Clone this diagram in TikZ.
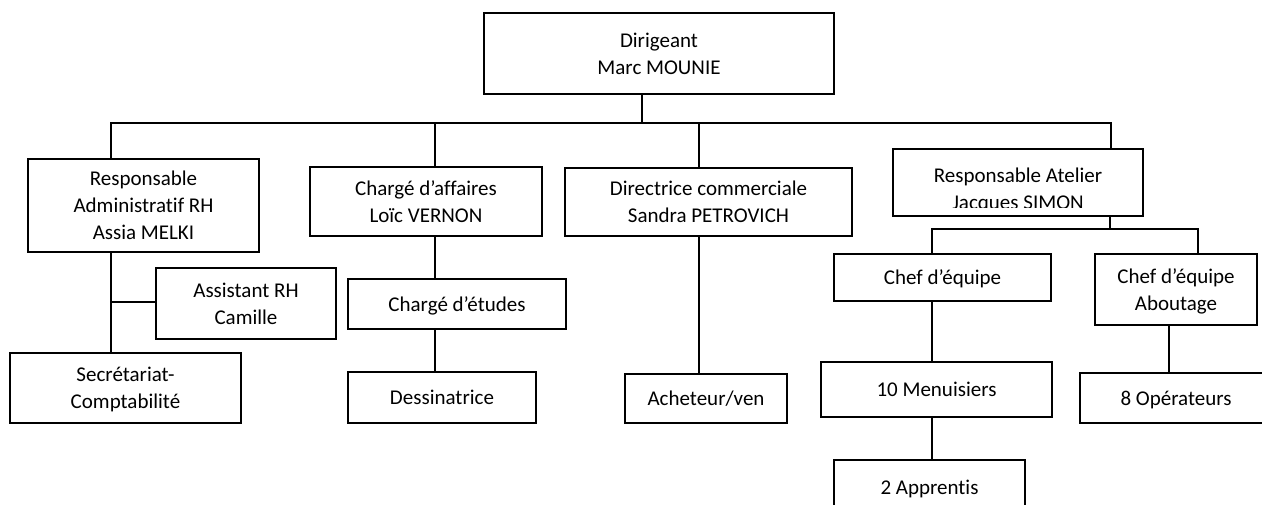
\documentclass[tikz,border=0pt]{standalone}
\usepackage{fontspec}
\setmainfont[Ligatures=CommonOff]{Carlito}
\usetikzlibrary{calc}
\begin{document}
\begin{tikzpicture}[x=1pt,y=-1pt,
  txt/.style={align=center, inner sep=0pt, text depth=0pt, font=\fontsize{21}{27}\selectfont},
  orgbox/.style={draw, line width=1.7pt, txt},
  link/.style={line width=1.6pt, line cap=rect}]
\fill[white] (0,0) rectangle (1262,504);
\clip (0,0) rectangle (1262,504);
% boxes
\node[orgbox, minimum width=350, minimum height=81] (dir) at (659,53.5) {Dirigeant\\Marc MOUNIE};
\node[orgbox, minimum width=231, minimum height=93] (admin) at (143.5,205.5) {Responsable\\Administratif RH\\Assia MELKI};
\node[orgbox, minimum width=232, minimum height=69] (caff) at (426,201.5) {Chargé d’affaires\\Loïc VERNON};
\node[orgbox, minimum width=287, minimum height=68] (dirc) at (708.5,202) {Directrice commerciale\\Sandra PETROVICH};
\node[orgbox, minimum width=250, minimum height=67] (atelier) at (1018,182.5) {};
\begin{scope}
  \clip (atelier.north west) rectangle ($(atelier.south east)+(0,-9)$);
  \node[txt] (ateliertext) at (1018,189) {Responsable Atelier\\Jacques SIMON};
\end{scope}
\node[orgbox, minimum width=180, minimum height=71] (assist) at (246,303.5) {Assistant RH\\Camille};
\node[orgbox, minimum width=231, minimum height=70] (secr) at (125.5,388) {Secrétariat-\\Comptabilité};
\node[orgbox, minimum width=218, minimum height=50] (cetud) at (457,304) {Chargé d’études};
\node[orgbox, minimum width=188, minimum height=51] (dessin) at (442,397.5) {Dessinatrice};
\node[orgbox, minimum width=162, minimum height=49] (achet) at (706,398.5) {Acheteur/ven};
\node[orgbox, minimum width=217, minimum height=47] (chef1) at (942.5,277.5) {Chef d’équipe};
\node[orgbox, minimum width=162, minimum height=71] (chef2) at (1176,289.5) {Chef d’équipe\\Aboutage};
\node[orgbox, minimum width=231, minimum height=55] (menu) at (936.5,389.5) {10 Menuisiers};
\node[orgbox, minimum width=191, minimum height=54] (appr) at (929.5,487) {2 Apprentis};
\node[orgbox, minimum width=192, minimum height=50] (oper) at (1176,398) {8 Opérateurs};
% junction coordinates
\coordinate (busL) at (111,123);
\coordinate (busR) at (1111,123);
\coordinate (jdir) at (642,123);
\coordinate (jcaff) at (435,123);
\coordinate (jdirc) at (699,123);
\coordinate (jassist) at (111,302);
\coordinate (jat) at (1110,229);
\coordinate (jchef1) at (932,229);
\coordinate (jchef2) at (1198,229);
\coordinate (jop) at (1169,350);
% connectors
\draw[link] (jdir |- dir.south) -- (jdir);
\draw[link] (busL) -- (busR);
\draw[link] (busL) -- (busL |- admin.north);
\draw[link] (jcaff) -- (jcaff |- caff.north);
\draw[link] (jdirc) -- (jdirc |- dirc.north);
\draw[link] (busR) -- (busR |- atelier.north);
\draw[link] (busL |- admin.south) -- (busL |- secr.north);
\draw[link] (jassist) -- (jassist -| assist.west);
\draw[link] (jcaff |- caff.south) -- (jcaff |- cetud.north);
\draw[link] (jcaff |- cetud.south) -- (jcaff |- dessin.north);
\draw[link] (jdirc |- dirc.south) -- (jdirc |- achet.north);
\draw[link] (jat |- atelier.south) -- (jat);
\draw[link] (jchef1) -- (jchef2);
\draw[link] (jchef1) -- (jchef1 |- chef1.north);
\draw[link] (jchef2) -- (jchef2 |- chef2.north);
\draw[link] (jchef1 |- chef1.south) -- (jchef1 |- menu.north);
\draw[link] (jchef1 |- menu.south) -- (jchef1 |- appr.north);
\draw[link] (jop |- chef2.south) -- (jop |- oper.north);
\end{tikzpicture}
\end{document}
